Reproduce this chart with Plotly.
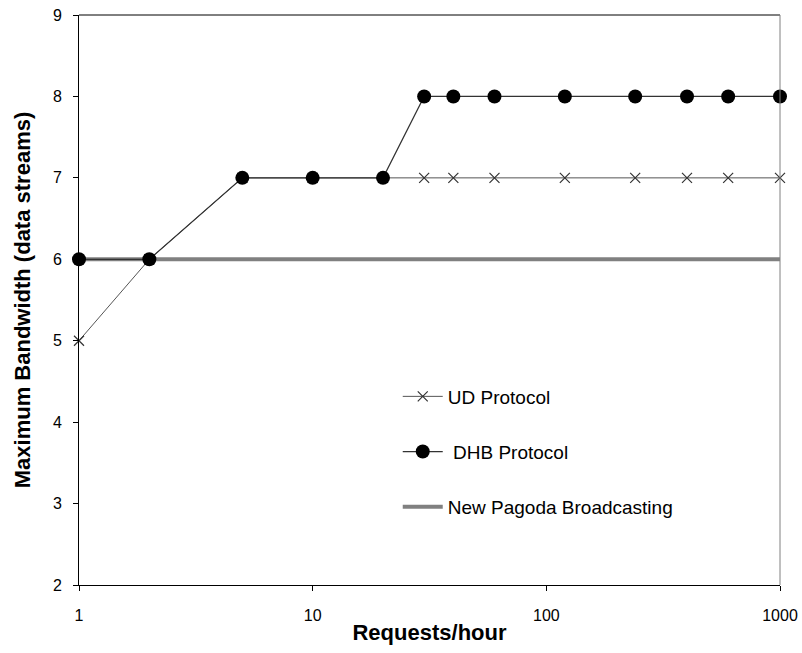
import plotly.graph_objects as go

requests = [1, 2, 5, 10, 20, 30, 40, 60, 120, 240, 400, 600, 1000]
ud_protocol = [5, 6, 7, 7, 7, 7, 7, 7, 7, 7, 7, 7, 7]
dhb_protocol = [6, 6, 7, 7, 7, 8, 8, 8, 8, 8, 8, 8, 8]
npb_x = [1, 1000]
npb_values = [6, 6]

x_ticks = [1, 10, 100, 1000]
y_ticks = [2, 3, 4, 5, 6, 7, 8, 9]

FONT = "Liberation Sans, Arial, sans-serif"

fig = go.Figure()

fig.add_trace(go.Scatter(
    x=npb_x, y=npb_values, mode="lines", name="New Pagoda Broadcasting",
    line=dict(color="#808080", width=4), legendrank=3, legendgroup="c",
    cliponaxis=False,
))
fig.add_trace(go.Scatter(
    x=requests, y=ud_protocol, mode="lines+markers", name="UD Protocol",
    line=dict(color="#555555", width=1),
    marker=dict(symbol="x-thin", size=10, line=dict(color="#333333", width=1.2), color="#333333"),
    legendrank=1, legendgroup="a", cliponaxis=False,
))
fig.add_trace(go.Scatter(
    x=requests, y=dhb_protocol, mode="lines+markers", name=" DHB Protocol",
    line=dict(color="#333333", width=1.2),
    marker=dict(symbol="circle", size=14, color="black"),
    legendrank=2, legendgroup="b", cliponaxis=False,
))

fig.update_layout(
    width=802, height=653,
    margin=dict(l=79, r=22, t=15, b=68),
    paper_bgcolor="white", plot_bgcolor="white",
    font=dict(family=FONT, size=16, color="black"),
    showlegend=True,
    legend=dict(
        x=0.4547, y=0.364, xanchor="left", yanchor="top",
        bgcolor="rgba(0,0,0,0)", borderwidth=0,
        font=dict(family=FONT, size=19, color="black"),
        traceorder="grouped", tracegroupgap=27.5,
        itemwidth=40,
    ),
    xaxis=dict(
        type="log", range=[0, 3], tickvals=x_ticks, ticktext=[str(v) for v in x_ticks],
        showgrid=False, zeroline=False, automargin=False,
        showline=True, linecolor="black", linewidth=1, mirror=False,
        ticks="outside", ticklen=5, tickcolor="black",
        ticklabelstandoff=11,
        tickfont=dict(family=FONT, size=16),
        title=dict(text="<b>Requests/hour</b>", font=dict(family=FONT, size=22), standoff=1),
    ),
    yaxis=dict(
        range=[2, 9], tickvals=y_ticks,
        showgrid=False, zeroline=False, automargin=False,
        showline=True, linecolor="black", linewidth=1,
        ticks="outside", ticklen=5, tickcolor="black",
        ticklabelstandoff=8,
        tickfont=dict(family=FONT, size=16),
        title=dict(text="<b>Maximum Bandwidth (data streams)</b>", font=dict(family=FONT, size=22), standoff=16),
    ),
    shapes=[
        dict(type="line", xref="paper", yref="paper", x0=0, x1=1, y0=1, y1=1,
             line=dict(color="black", width=1)),
        dict(type="line", xref="paper", yref="paper", x0=1, x1=1, y0=0, y1=1,
             line=dict(color="#808080", width=1)),
    ],
)

fig.write_html("out.html")
